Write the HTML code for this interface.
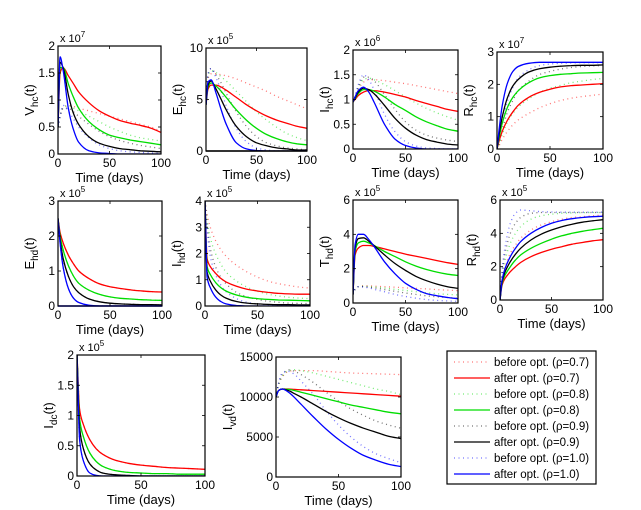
<!DOCTYPE html>
<html><head><meta charset="utf-8"><style>
html,body{margin:0;padding:0;background:#fff;}
svg{display:block;font-family:"Liberation Sans",Arial,sans-serif;}
</style></head><body>
<svg id="fig" width="641" height="510" viewBox="0 0 641 510" xmlns="http://www.w3.org/2000/svg"></svg>
<script>
const times = [0,2,5,10,15,20,30,40,50,60,70,80,90,100];
const seriesColors = ['#ff0000','#00dd00','#000000','#0000ff'];
const rhoLabels = ['0.7','0.8','0.9','1.0'];

const vhcAfter = [[0.5,1.5,1.6,1.45,1.3,1.15,0.95,0.8,0.7,0.62,0.57,0.53,0.48,0.4],[0.5,1.6,1.6,1.3,1.05,0.85,0.6,0.45,0.35,0.3,0.26,0.23,0.2,0.17],[0.5,1.7,1.6,1.1,0.75,0.55,0.32,0.2,0.14,0.1,0.08,0.06,0.05,0.04],[0.5,1.8,1.55,0.85,0.45,0.22,0.06,0.02,0.01,0,0,0,0,0]];
const vhcBefore = [[0.5,0.7,0.85,0.9,0.88,0.85,0.8,0.75,0.7,0.65,0.6,0.55,0.5,0.42],[0.5,0.7,0.85,0.9,0.85,0.8,0.7,0.6,0.5,0.42,0.35,0.3,0.27,0.24],[0.5,0.7,0.85,0.85,0.78,0.7,0.55,0.42,0.32,0.25,0.2,0.16,0.13,0.1],[0.5,0.7,0.9,0.8,0.65,0.5,0.3,0.17,0.1,0.06,0.04,0.03,0.02,0.01]];
const ehcAfter = [[4.5,6,6.4,6.4,6.2,5.9,5.2,4.5,3.9,3.4,3,2.7,2.4,2.2],[4.5,6.2,6.6,6.3,5.8,5.2,4,3,2.2,1.6,1.2,0.9,0.7,0.6],[4.5,6.4,6.8,6,5,4,2.4,1.4,0.8,0.5,0.3,0.2,0.1,0.1],[4.5,6.7,6.9,5.6,4,2.6,0.8,0.2,0.05,0,0,0,0,0]];
const ehcBefore = [[4.5,7,7.5,7.5,7.4,7.3,7,6.6,6.2,5.8,5.3,4.9,4.5,4.1],[4.5,7.2,7.8,7.6,7.2,6.8,5.8,4.8,3.8,3,2.3,1.7,1.3,1],[4.5,7.4,8,7.4,6.6,5.6,3.8,2.4,1.4,0.8,0.5,0.3,0.2,0.1],[4.5,7.5,8,7.1,5.8,4.4,2.2,0.9,0.3,0.1,0,0,0,0]];
const ihcAfter = [[0.95,1.0,1.08,1.15,1.18,1.18,1.15,1.1,1.05,0.98,0.92,0.86,0.8,0.76],[0.95,1.02,1.12,1.2,1.2,1.17,1.05,0.9,0.78,0.65,0.55,0.47,0.4,0.36],[0.95,1.03,1.15,1.23,1.2,1.12,0.88,0.62,0.42,0.28,0.19,0.14,0.1,0.08],[0.95,1.05,1.18,1.25,1.15,0.95,0.5,0.2,0.07,0.02,0,0,0,0]];
const ihcBefore = [[0.95,1.05,1.2,1.35,1.4,1.4,1.38,1.35,1.32,1.28,1.24,1.2,1.16,1.12],[0.95,1.05,1.22,1.4,1.43,1.4,1.3,1.18,1.05,0.93,0.82,0.73,0.65,0.58],[0.95,1.06,1.25,1.45,1.45,1.38,1.1,0.8,0.55,0.38,0.28,0.22,0.18,0.15],[0.95,1.07,1.3,1.5,1.4,1.2,0.7,0.35,0.15,0.06,0.02,0.01,0,0]];
const rhcAfter = [[0,0.25,0.55,0.9,1.15,1.35,1.6,1.75,1.85,1.92,1.96,1.98,2.0,2.02],[0,0.35,0.8,1.3,1.6,1.8,2.05,2.2,2.27,2.31,2.33,2.35,2.36,2.37],[0,0.45,1.0,1.6,1.95,2.15,2.38,2.48,2.53,2.56,2.58,2.59,2.59,2.6],[0,0.6,1.35,2.05,2.4,2.55,2.65,2.68,2.68,2.68,2.68,2.68,2.68,2.68]];
const rhcBefore = [[0,0.1,0.3,0.55,0.75,0.9,1.1,1.27,1.4,1.5,1.57,1.62,1.66,1.7],[0,0.15,0.45,0.85,1.1,1.3,1.55,1.75,1.88,1.97,2.05,2.1,2.15,2.18],[0,0.2,0.6,1.15,1.5,1.8,2.1,2.3,2.4,2.47,2.52,2.55,2.57,2.58],[0,0.3,0.8,1.5,1.9,2.2,2.45,2.58,2.63,2.65,2.66,2.67,2.67,2.67]];
const ehdAfter = [[2.5,2.1,1.8,1.45,1.2,1.0,0.78,0.63,0.55,0.5,0.46,0.43,0.41,0.4],[2.5,2.0,1.6,1.15,0.85,0.65,0.45,0.33,0.26,0.22,0.2,0.18,0.17,0.16],[2.5,1.9,1.35,0.85,0.55,0.38,0.2,0.12,0.08,0.06,0.05,0.04,0.04,0.03],[2.5,1.8,1.1,0.5,0.22,0.1,0.02,0,0,0,0,0,0,0]];
const ehdBefore = [[2.5,2.1,1.8,1.45,1.2,1.0,0.78,0.63,0.55,0.5,0.46,0.43,0.41,0.4],[2.5,2.0,1.6,1.15,0.85,0.65,0.45,0.33,0.26,0.22,0.2,0.18,0.17,0.16],[2.5,1.9,1.35,0.85,0.55,0.38,0.2,0.12,0.08,0.06,0.05,0.04,0.04,0.03],[2.5,1.8,1.1,0.5,0.22,0.1,0.02,0,0,0,0,0,0,0]];
const ihdAfter = [[4,1.8,1.5,1.25,1.05,0.92,0.75,0.64,0.57,0.52,0.48,0.46,0.45,0.45],[4,1.5,1.2,0.9,0.7,0.57,0.42,0.33,0.28,0.25,0.23,0.22,0.21,0.2],[4,1.3,0.95,0.62,0.42,0.3,0.17,0.11,0.08,0.06,0.05,0.05,0.04,0.04],[4,1.1,0.7,0.35,0.17,0.08,0.02,0,0,0,0,0,0,0]];
const ihdBefore = [[4,3.5,3.0,2.5,2.15,1.9,1.55,1.3,1.1,0.95,0.85,0.78,0.72,0.68],[4,3.3,2.6,2.0,1.6,1.3,0.95,0.72,0.56,0.45,0.38,0.33,0.3,0.28],[4,3.1,2.2,1.5,1.1,0.85,0.52,0.35,0.25,0.18,0.14,0.11,0.1,0.09],[4,2.9,1.9,1.2,0.8,0.55,0.28,0.14,0.08,0.05,0.03,0.02,0.01,0.01]];
const thdAfter = [[0.5,2.8,3.2,3.35,3.35,3.3,3.15,3.0,2.85,2.72,2.6,2.47,2.35,2.25],[0.5,3.0,3.5,3.6,3.5,3.35,3.0,2.7,2.4,2.15,1.95,1.8,1.68,1.6],[0.5,3.2,3.75,3.8,3.6,3.35,2.8,2.3,1.9,1.55,1.3,1.1,0.95,0.85],[0.5,3.4,4.0,4.0,3.7,3.3,2.4,1.7,1.15,0.8,0.55,0.42,0.32,0.25]];
const thdBefore = [[0.5,0.8,0.95,1.0,1.0,0.98,0.95,0.92,0.88,0.85,0.82,0.78,0.75,0.72],[0.5,0.8,0.95,0.98,0.96,0.93,0.87,0.8,0.73,0.66,0.6,0.54,0.5,0.47],[0.5,0.8,0.95,0.95,0.92,0.88,0.78,0.68,0.58,0.5,0.42,0.36,0.32,0.28],[0.5,0.8,0.95,0.93,0.88,0.8,0.65,0.5,0.38,0.28,0.2,0.15,0.12,0.1]];
const rhdAfter = [[0,0.9,1.3,1.7,2.0,2.25,2.6,2.85,3.05,3.2,3.35,3.45,3.55,3.62],[0,1.0,1.5,2.0,2.4,2.7,3.1,3.4,3.65,3.85,4.0,4.12,4.22,4.3],[0,1.1,1.7,2.3,2.75,3.1,3.6,3.95,4.2,4.4,4.55,4.67,4.75,4.82],[0,1.2,1.9,2.6,3.1,3.5,4.0,4.35,4.6,4.77,4.88,4.95,5.0,5.03]];
const rhdBefore = [[0,1.2,2.0,2.8,3.3,3.7,4.2,4.5,4.7,4.85,4.95,5.0,5.05,5.1],[0,1.4,2.4,3.4,4.0,4.4,4.85,5.05,5.15,5.2,5.22,5.24,5.25,5.25],[0,1.6,2.8,4.0,4.6,4.95,5.2,5.25,5.25,5.25,5.25,5.25,5.25,5.25],[0,1.8,3.2,4.6,5.2,5.4,5.35,5.3,5.28,5.27,5.27,5.27,5.27,5.27]];
const idcAfter = [[2,1.1,0.85,0.6,0.45,0.36,0.26,0.21,0.18,0.16,0.14,0.13,0.12,0.11],[2,0.95,0.65,0.38,0.24,0.16,0.09,0.06,0.05,0.04,0.04,0.03,0.03,0.03],[2,0.8,0.45,0.2,0.1,0.05,0.02,0.01,0,0,0,0,0,0],[2,0.6,0.25,0.05,0.01,0,0,0,0,0,0,0,0,0]];
const idcBefore = [[2,1.1,0.85,0.6,0.45,0.36,0.26,0.21,0.18,0.16,0.14,0.13,0.12,0.11],[2,0.95,0.65,0.38,0.24,0.16,0.09,0.06,0.05,0.04,0.04,0.03,0.03,0.03],[2,0.8,0.45,0.2,0.1,0.05,0.02,0.01,0,0,0,0,0,0],[2,0.6,0.25,0.05,0.01,0,0,0,0,0,0,0,0,0]];
const ivdAfter = [[10000,10800,11000,11000,10950,10900,10800,10700,10600,10500,10400,10300,10200,10100],[10000,10800,11000,10950,10800,10600,10200,9800,9400,9000,8700,8400,8100,7900],[10000,10800,11000,10800,10400,10000,9100,8200,7400,6700,6100,5600,5100,4800],[10000,10800,11000,10600,9900,9100,7500,6000,4700,3600,2700,2100,1600,1300]];
const ivdBefore = [[10000,11500,12500,13200,13300,13300,13300,13200,13100,13000,12950,12900,12850,12800],[10000,11500,12600,13300,13400,13300,13000,12600,12200,11800,11400,11000,10700,10300],[10000,11600,12800,13400,13200,12800,11800,10600,9500,8500,7700,7000,6500,6100],[10000,11700,13000,13200,12800,12000,10300,8300,6500,5000,3800,2900,2300,1800]];

const xTicks = [0,50,100];
const ticksA = [0,0.5,1,1.5,2];
const ticksB = [0,5,10];
const ticksC = [0,1,2,3];
const ticksD = [0,1,2,3,4];
const ticksE = [0,2,4,6];
const ticksF = [0,5000,10000,15000];

const panels = [
 {id:'vhc',v:'V',s:'hc',exp:'7',x0:58,x1:161,y0:46,y1:154,ymax:2,ticks:ticksA,after:vhcAfter,before:vhcBefore},
 {id:'ehc',v:'E',s:'hc',exp:'5',x0:206,x1:307,y0:48,y1:151,ymax:10,ticks:ticksB,after:ehcAfter,before:ehcBefore,lc:'#000'},
 {id:'ihc',v:'I',s:'hc',exp:'6',x0:353,x1:458,y0:50,y1:149,ymax:2,ticks:ticksA,after:ihcAfter,before:ihcBefore},
 {id:'rhc',v:'R',s:'hc',exp:'7',x0:497,x1:603,y0:52,y1:149,ymax:3,ticks:ticksC,after:rhcAfter,before:rhcBefore},
 {id:'ehd',v:'E',s:'hd',exp:'5',x0:58,x1:162,y0:201,y1:306,ymax:3,ticks:ticksC,after:ehdAfter,before:ehdBefore,lc:'#0000ff'},
 {id:'ihd',v:'I',s:'hd',exp:'5',x0:205,x1:310,y0:201,y1:306,ymax:4,ticks:ticksD,after:ihdAfter,before:ihdBefore},
 {id:'thd',v:'T',s:'hd',exp:'5',x0:353,x1:458,y0:200,y1:303,ymax:6,ticks:ticksE,after:thdAfter,before:thdBefore},
 {id:'rhd',v:'R',s:'hd',exp:'5',x0:500,x1:603,y0:200,y1:300,ymax:6,ticks:ticksE,after:rhdAfter,before:rhdBefore},
 {id:'idc',v:'I',s:'dc',exp:'5',x0:77,x1:205,y0:355,y1:476,ymax:2,ticks:ticksA,after:idcAfter,before:idcBefore},
 {id:'ivd',v:'I',s:'vd',exp:null,x0:276,x1:401,y0:357,y1:477,ymax:15000,ticks:ticksF,after:ivdAfter,before:ivdBefore}
];

const NS='http://www.w3.org/2000/svg';
const svg=document.getElementById('fig');
function mk(tag,attrs,parent){const e=document.createElementNS(NS,tag);for(const k in attrs)e.setAttribute(k,attrs[k]);(parent||svg).appendChild(e);return e;}
// monotone cubic (Fritsch-Carlson) to avoid overshoot
function pathFrom(pts){
  const n=pts.length,dx=[],m=[],t=[];
  for(let i=0;i<n-1;i++){dx[i]=pts[i+1][0]-pts[i][0];m[i]=(pts[i+1][1]-pts[i][1])/dx[i];}
  t[0]=m[0];t[n-1]=m[n-2];
  for(let i=1;i<n-1;i++){
    if(m[i-1]*m[i]<=0)t[i]=0;
    else{const w1=2*dx[i]+dx[i-1],w2=dx[i]+2*dx[i-1];t[i]=(w1+w2)/(w1/m[i-1]+w2/m[i]);}
  }
  let d='M'+pts[0][0].toFixed(1)+','+pts[0][1].toFixed(1);
  for(let i=0;i<n-1;i++){
    const h=dx[i]/3;
    d+=' C'+(pts[i][0]+h).toFixed(1)+','+(pts[i][1]+t[i]*h).toFixed(1)+' '+(pts[i+1][0]-h).toFixed(1)+','+(pts[i+1][1]-t[i+1]*h).toFixed(1)+' '+pts[i+1][0].toFixed(1)+','+pts[i+1][1].toFixed(1);
  }
  return d;
}
function fmt(v){return String(v);}

panels.forEach(p=>{
  const g=mk('g',{});
  
  
  const xs=t=>p.x0+(t/100)*(p.x1-p.x0);
  const ys=v=>p.y1-(v/p.ymax)*(p.y1-p.y0);
  const cp=mk('clipPath',{id:'clip-'+p.id},g);
  mk('rect',{x:p.x0,y:p.y0,width:p.x1-p.x0,height:p.y1-p.y0},cp);
  const lines=mk('g',{'clip-path':'url(#clip-'+p.id+')'},g);
  p.before.forEach((ser,i)=>{
    const pts=ser.map((v,j)=>[xs(times[j]),ys(v)]);
    const el=mk('path',{d:pathFrom(pts),fill:'none',stroke:seriesColors[i],'stroke-width':1.3,'stroke-dasharray':'1 3.5','stroke-opacity':0.55},lines);
    
    
  });
  p.after.forEach((ser,i)=>{
    const pts=ser.map((v,j)=>[xs(times[j]),ys(v)]);
    const el=mk('path',{d:pathFrom(pts),fill:'none',stroke:seriesColors[i],'stroke-width':1.3},lines);
    
    
  });
  if(p.lc){mk('line',{x1:p.x0,y1:p.y1,x2:p.x1,y2:p.y1,stroke:p.lc,'stroke-width':1.5},g);}
  const frame=mk('rect',{x:p.x0,y:p.y0,width:p.x1-p.x0,height:p.y1-p.y0,fill:'none',stroke:'#000','stroke-width':1.2},g);
  
  
  xTicks.forEach(t=>{
    const x=xs(t);
    mk('line',{x1:x,y1:p.y1,x2:x,y2:p.y1-3,stroke:'#000','stroke-width':0.8},g);
    mk('line',{x1:x,y1:p.y0,x2:x,y2:p.y0+3,stroke:'#000','stroke-width':0.8},g);
    const tx=mk('text',{x:x,y:p.y1+13,'font-size':12,'text-anchor':'middle',fill:'#000'},g);
    tx.textContent=fmt(t);
    
    
  });
  p.ticks.forEach(v=>{
    const y=ys(v);
    mk('line',{x1:p.x0,y1:y,x2:p.x0+3,y2:y,stroke:'#000','stroke-width':0.8},g);
    mk('line',{x1:p.x1,y1:y,x2:p.x1-3,y2:y,stroke:'#000','stroke-width':0.8},g);
    const ty=mk('text',{x:p.x0-3,y:y+4,'font-size':12,'text-anchor':'end',fill:'#000'},g);
    ty.textContent=fmt(v);
    
    
  });
  const xl=mk('text',{x:(p.x0+p.x1)/2,y:p.y1+28,'font-size':13,'text-anchor':'middle',fill:'#000'},g);
  xl.textContent='Time (days)';
  
  
  const lx=p.exp===null?p.x0-44:p.x0-24;
  const ly=(p.y0+p.y1)/2;
  const yl=mk('text',{x:lx,y:ly,'font-size':13,'text-anchor':'middle',fill:'#000',transform:'rotate(-90 '+lx+' '+ly+')'},g);
  
  
  const a=document.createElementNS(NS,'tspan');a.textContent=p.v;yl.appendChild(a);
  const b=document.createElementNS(NS,'tspan');b.setAttribute('font-size','10');b.setAttribute('dy','4');b.textContent=p.s;yl.appendChild(b);
  const c=document.createElementNS(NS,'tspan');c.setAttribute('dy','-4');c.textContent='(t)';yl.appendChild(c);
  if(p.exp){
    const ex=mk('text',{x:p.x0+2,y:p.y0-4,'font-size':11,fill:'#000'},g);
    
    
    const e1=document.createElementNS(NS,'tspan');e1.textContent='x 10';ex.appendChild(e1);
    const e2=document.createElementNS(NS,'tspan');e2.setAttribute('font-size','8');e2.setAttribute('dy','-5');e2.textContent=p.exp;ex.appendChild(e2);
  }
});

// legend
const lg=mk('g',{});


mk('rect',{x:447,y:351,width:149,height:133,fill:'#fff',stroke:'#000','stroke-width':1.2},lg);
for(let i=0;i<8;i++){
  const ci=Math.floor(i/2),after=i%2===1;
  const y=362+i*16;
  const ln=mk('line',{x1:454,y1:y,x2:490,y2:y,stroke:seriesColors[ci],'stroke-width':1.3},lg);
  if(!after){ln.setAttribute('stroke-dasharray','1 3.5');ln.setAttribute('stroke-opacity','0.55');}
  const t=mk('text',{x:494,y:y+4,'font-size':11.5,fill:'#000'},lg);
  t.textContent=(after?'after opt. (':'before opt. (')+'\u03c1='+rhoLabels[ci]+')';
  
  
}
</script>
</body></html>
